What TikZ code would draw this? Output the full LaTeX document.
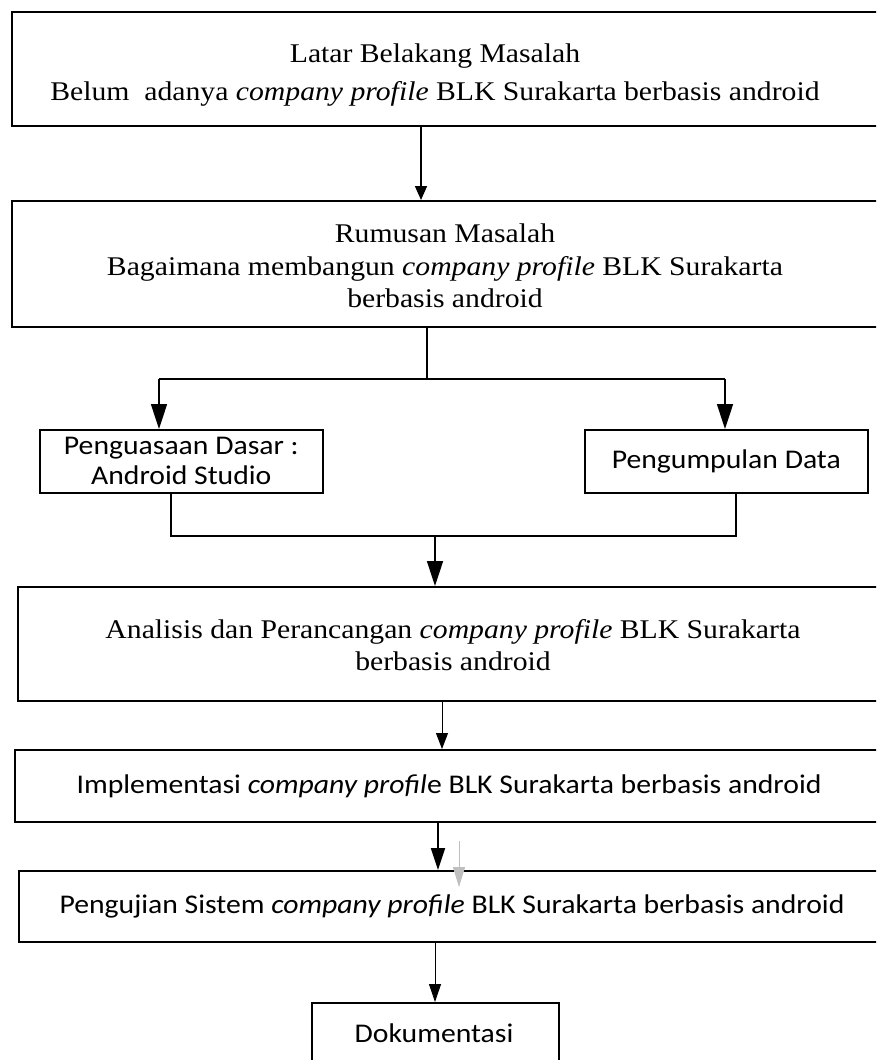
\documentclass[tikz,border=0pt]{standalone}
\usepackage{fontspec}
\setmainfont{Liberation Serif}[FakeStretch=1.1]
\newfontfamily\calfont{Carlito}[FakeStretch=1.1]
\usetikzlibrary{arrows.meta}
\begin{document}
\begin{tikzpicture}[x=1pt,y=-1pt,
  box/.style={draw, line width=1.6pt, inner sep=0pt, anchor=north west},
  ser/.style={font=\fontsize{27}{32.5}\selectfont, align=center, inner sep=0pt},
  cal/.style={font=\calfont\fontsize{27}{30}\selectfont, align=center, inner sep=0pt},
  conn/.style={line width=1.6pt},
  arrA/.style={line width=1.5pt, -{Triangle[length=14pt,width=12pt]}},
  arrBig/.style={line width=1.6pt, -{Triangle[length=25pt,width=16pt]}},
  arrThin/.style={line width=0.9pt, -{Triangle[length=16pt,width=12pt]}},
  arrMid/.style={line width=1.8pt, -{Triangle[length=22pt,width=14pt]}},
  arrGray/.style={line width=1pt, draw=black!25, -{Triangle[length=20pt,width=12pt,fill=black!25]}},
  arrLow/.style={line width=0.9pt, -{Triangle[length=18pt,width=12pt]}}
]
\clip (0,0) rectangle (876,1060);
\fill[white] (0,0) rectangle (876,1060);

% boxes
\node[box, minimum width=900pt, minimum height=114pt] (b1) at (11,11) {};
\node[box, minimum width=900pt, minimum height=126pt] (b2) at (11,200) {};
\node[box, minimum width=283pt, minimum height=63pt, cal] (b3) at (39,429) {Penguasaan Dasar :\\Android Studio};
\node[box, minimum width=283pt, minimum height=63pt, cal] (b4) at (584,429) {Pengumpulan Data};
\node[box, minimum width=900pt, minimum height=114pt] (b5) at (17,586) {};
\node[box, minimum width=900pt, minimum height=72pt] (b6) at (14,749) {};
\node[box, minimum width=900pt, minimum height=71pt] (b7) at (18,870) {};
\node[box, minimum width=247pt, minimum height=100pt] (b8) at (311,1002) {};

% texts
\node[ser, font=\fontsize{27}{38}\selectfont] (t1) at (435,75) {Latar Belakang Masalah\\Belum~ adanya \textit{company profile} BLK Surakarta berbasis android};
\node[ser] (t2) at (445,266) {Rumusan Masalah\\Bagaimana membangun \textit{company profile} BLK Surakarta\\berbasis android};
\node[ser] (t5) at (453,645) {Analisis dan Perancangan \textit{company profile} BLK Surakarta\\berbasis android};
\node[cal, anchor=base] (t6) at (449,793) {Implementasi \textit{company profil}e BLK Surakarta berbasis android};
\node[cal, anchor=base] (t7) at (452,913) {Pengujian Sistem \textit{company profile} BLK Surakarta berbasis android};
\node[cal, anchor=base] (t8) at (434,1042) {Dokumentasi};

% connectors
\coordinate (a1) at (421,0);
\draw[arrA] (a1 |- b1.south) -- (a1 |- b2.north);

\coordinate (sc) at (427,379);
\coordinate (sl) at (159,379);
\coordinate (sr) at (725,379);
\draw[conn] (sc |- b2.south) -- (sc);
\draw[conn] (sl) -- (sr);
\draw[arrBig] (sl) -- (sl |- b3.north);
\draw[arrBig] (sr) -- (sr |- b4.north);

\coordinate (ml) at (171,536);
\coordinate (mr) at (736,536);
\coordinate (mc) at (435,536);
\draw[conn] (ml |- b3.south) -- (ml) -- (mr) -- (mr |- b4.south);
\draw[arrBig] (mc) -- (mc |- b5.north);

\coordinate (a5) at (442,0);
\draw[arrThin] (a5 |- b5.south) -- (a5 |- b6.north);

\coordinate (a6) at (438,0);
\draw[arrMid] (a6 |- b6.south) -- (a6 |- b7.north);

\coordinate (g1) at (459,841);
\coordinate (g2) at (459,887);
\draw[arrGray] (g1) -- (g2);

\coordinate (a7) at (435,0);
\draw[arrLow] (a7 |- b7.south) -- (a7 |- b8.north);
\end{tikzpicture}
\end{document}
